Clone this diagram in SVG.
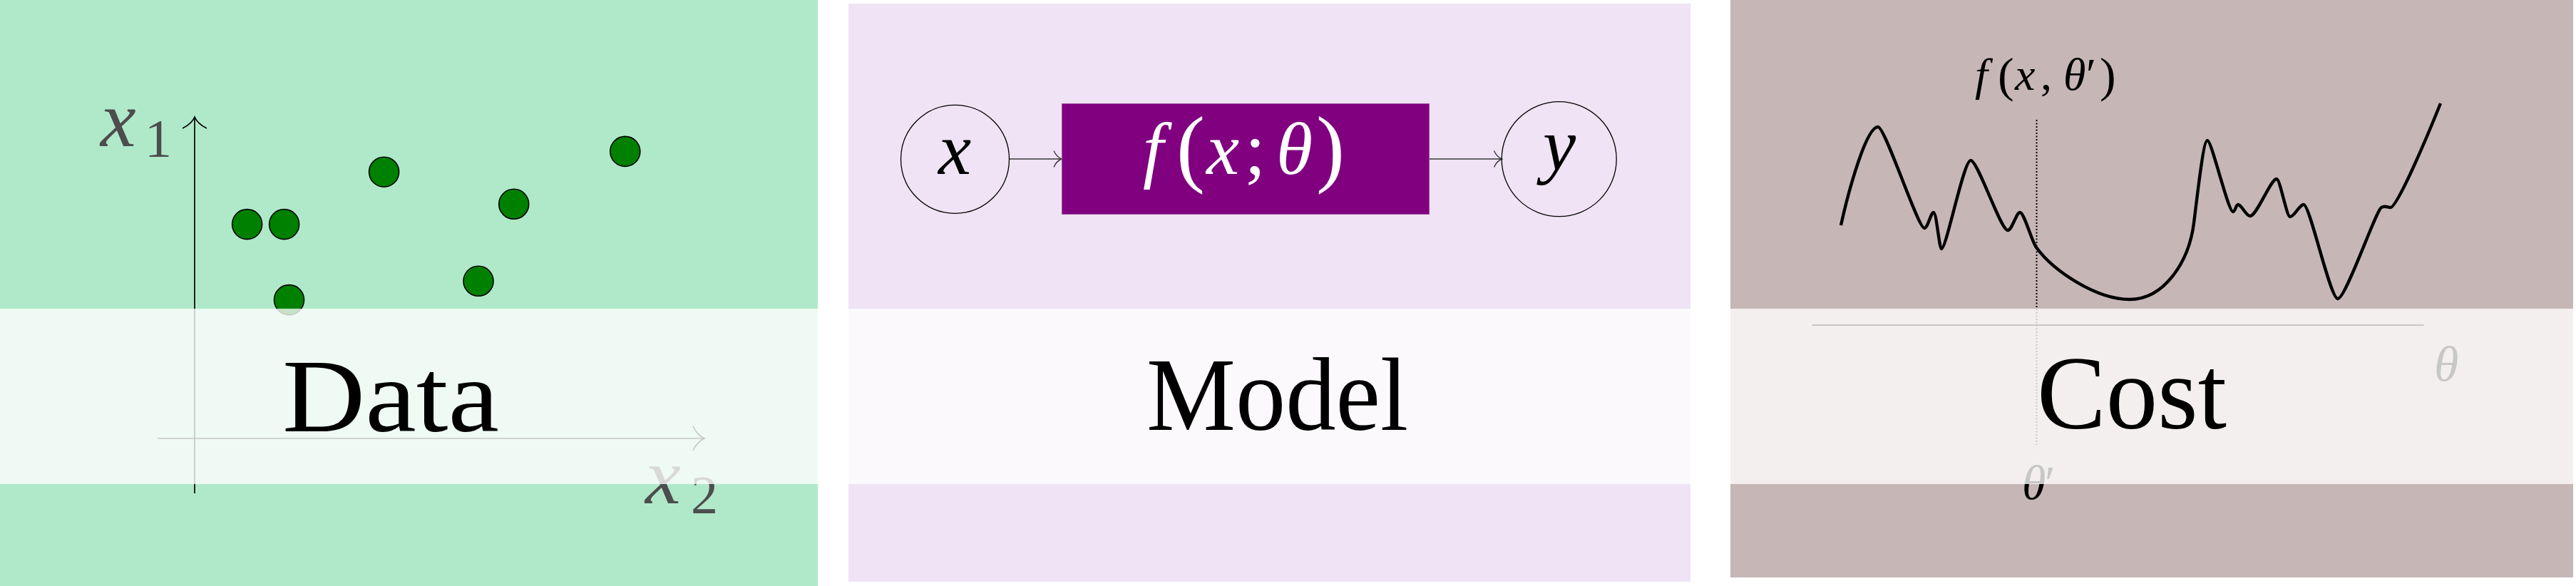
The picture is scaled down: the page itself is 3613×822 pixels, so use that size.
<svg xmlns="http://www.w3.org/2000/svg" width="3613" height="822" viewBox="0 0 3613 822">
<style>
.bg-data{fill:#b0e9c9}
.bg-model{fill:#efe3f5}
.bg-cost{fill:#c6b7b6}
.band{fill:#ffffff;fill-opacity:0.78}
.title{font-family:"Liberation Serif","Times New Roman",serif;font-size:146px;fill:#000000}
.math{font-family:"Liberation Serif","Times New Roman",serif;font-style:italic}
.up{font-style:normal}
.axis{stroke:#000000;stroke-width:1.7;fill:none}
.dot{fill:#008000;stroke:#000000;stroke-width:1.6}
.node-circle{fill:none;stroke:#000000;stroke-width:1.3}
.conn{stroke:#3a3a3a;stroke-width:1.5;fill:none}
</style>
<defs>
<marker id="bigArrow" markerUnits="userSpaceOnUse" viewBox="-18 -19 20 38" refX="0" refY="0" markerWidth="20" markerHeight="38" orient="auto" overflow="visible">
<path d="M-16,-17 C-12,-8 -5,-2 0,0 C-5,2 -12,8 -16,17" fill="none" stroke="#000000" stroke-width="1.6"/>
</marker>
<marker id="smallArrow" markerUnits="userSpaceOnUse" viewBox="-13 -13 15 26" refX="0" refY="0" markerWidth="15" markerHeight="26" orient="auto" overflow="visible">
<path d="M-11,-11.5 C-8,-5 -4,-1.5 0,0 C-4,1.5 -8,5 -11,11.5" fill="none" stroke="#3a3a3a" stroke-width="1.4"/>
</marker>
</defs>

<g id="panel-data">
<rect class="bg-data" x="0" y="0" width="1147" height="822"/>
<line class="axis" x1="273" y1="692" x2="273" y2="164" marker-end="url(#bigArrow)"/>
<line class="axis" x1="221" y1="615" x2="988" y2="615" marker-end="url(#bigArrow)"/>
<text class="math" x="141" y="205" font-size="112" fill="#4d4d4d">x<tspan class="up" x="203" y="220" font-size="76">1</tspan></text>
<text class="math" x="905" y="706" font-size="112" fill="#4d4d4d">x<tspan class="up" x="969" y="720" font-size="76">2</tspan></text>
<g id="points">
<circle class="dot" cx="346.6" cy="314.6" r="21"/>
<circle class="dot" cx="398.6" cy="314.6" r="21"/>
<circle class="dot" cx="538.6" cy="241.2" r="21"/>
<circle class="dot" cx="720.7" cy="286.3" r="21"/>
<circle class="dot" cx="876.8" cy="212.4" r="21"/>
<circle class="dot" cx="405.5" cy="420.6" r="21"/>
<circle class="dot" cx="671" cy="394.3" r="21"/>
</g>
<rect class="band" x="0" y="433" width="1147" height="246"/>
<text class="title" x="396" y="605" textLength="304" lengthAdjust="spacingAndGlyphs">Data</text>
</g>

<g id="panel-model">
<rect class="bg-model" x="1190" y="5" width="1181" height="811"/>
<rect class="band" x="1190" y="433" width="1181" height="246"/>
<text class="title" x="1608" y="603" textLength="367" lengthAdjust="spacingAndGlyphs">Model</text>
</g>

<g id="connectors">
<line class="conn" x1="1415.5" y1="223" x2="1489" y2="223" marker-end="url(#smallArrow)"/>
<line class="conn" x1="2004.7" y1="223" x2="2106.5" y2="223" marker-end="url(#smallArrow)"/>
</g>

<g id="node-x">
<circle class="node-circle" cx="1339.5" cy="223.3" r="76"/>
<text class="math" x="1339" y="244" font-size="104" text-anchor="middle" fill="#000000">x</text>
</g>

<g id="node-f">
<rect x="1489.5" y="145.5" width="515" height="155" fill="#800080" stroke="#a050a0" stroke-width="1"/>
<text class="math" fill="#ffffff" font-size="104"><tspan x="1603" y="244">f</tspan><tspan class="up" x="1650" y="247" font-size="120">(</tspan><tspan x="1692" y="244">x</tspan><tspan class="up" x="1746" y="244">;</tspan><tspan x="1790" y="244">θ</tspan><tspan class="up" x="1846" y="247" font-size="120">)</tspan></text>
</g>

<g id="node-y">
<circle class="node-circle" cx="2186.7" cy="223.2" r="80.5"/>
<text class="math" x="2187" y="238" font-size="104" text-anchor="middle" fill="#000000">y</text>
</g>

<g id="panel-cost">
<rect class="bg-cost" x="2427" y="0" width="1182" height="810"/>
<text class="math" fill="#000000" font-size="64"><tspan x="2770" y="126">f</tspan><tspan class="up" x="2802" y="128" font-size="68">(</tspan><tspan x="2826" y="126">x</tspan><tspan class="up" x="2862" y="126">,</tspan><tspan x="2894" y="126">θ</tspan><tspan class="up" x="2926" y="126">′</tspan><tspan class="up" x="2945" y="128" font-size="68">)</tspan></text>
<line x1="2856.5" y1="168" x2="2856.5" y2="624" stroke="#000000" stroke-width="2" stroke-dasharray="2,2.5"/>
<path d="M2582,316 C2594,262 2618,178 2634,178 C2644,178 2690,320 2699,320 C2704,320 2708,298 2712,298 C2716,298 2720,349 2723,349 C2730,349 2754,225 2764,225 C2774,225 2806,323 2816,323 C2822,323 2828,298 2833,298 C2839,298 2849,337 2856,347 C2880,380 2940,420 2987,420 C3035,420 3070,368 3077,313 C3081,283 3090,197 3096,197 C3102,197 3125,297 3132,297 C3135,297 3136,287 3139,287 C3144,287 3150,303 3156,303 C3165,303 3185,251 3193,251 C3198,251 3207,304 3212,304 C3218,304 3225,287 3231,287 C3240,287 3268,419 3279,419 C3290,419 3332,296 3340,291 C3345,288 3349,291 3353,291 C3362,291 3403,195 3423,145" fill="none" stroke="#000000" stroke-width="4.4"/>
<line x1="2541.6" y1="456" x2="3399.5" y2="456" stroke="#000000" stroke-width="2"/>
<text class="math" fill="#000000" font-size="68"><tspan x="2836" y="700">θ</tspan><tspan class="up" x="2868" y="700">′</tspan></text>
<text class="math" x="3414" y="534" font-size="70" fill="#000000">θ</text>
<rect class="band" x="2427" y="433" width="1182" height="246"/>
<text class="title" x="2857" y="601" textLength="266" lengthAdjust="spacingAndGlyphs">Cost</text>
</g>
</svg>
